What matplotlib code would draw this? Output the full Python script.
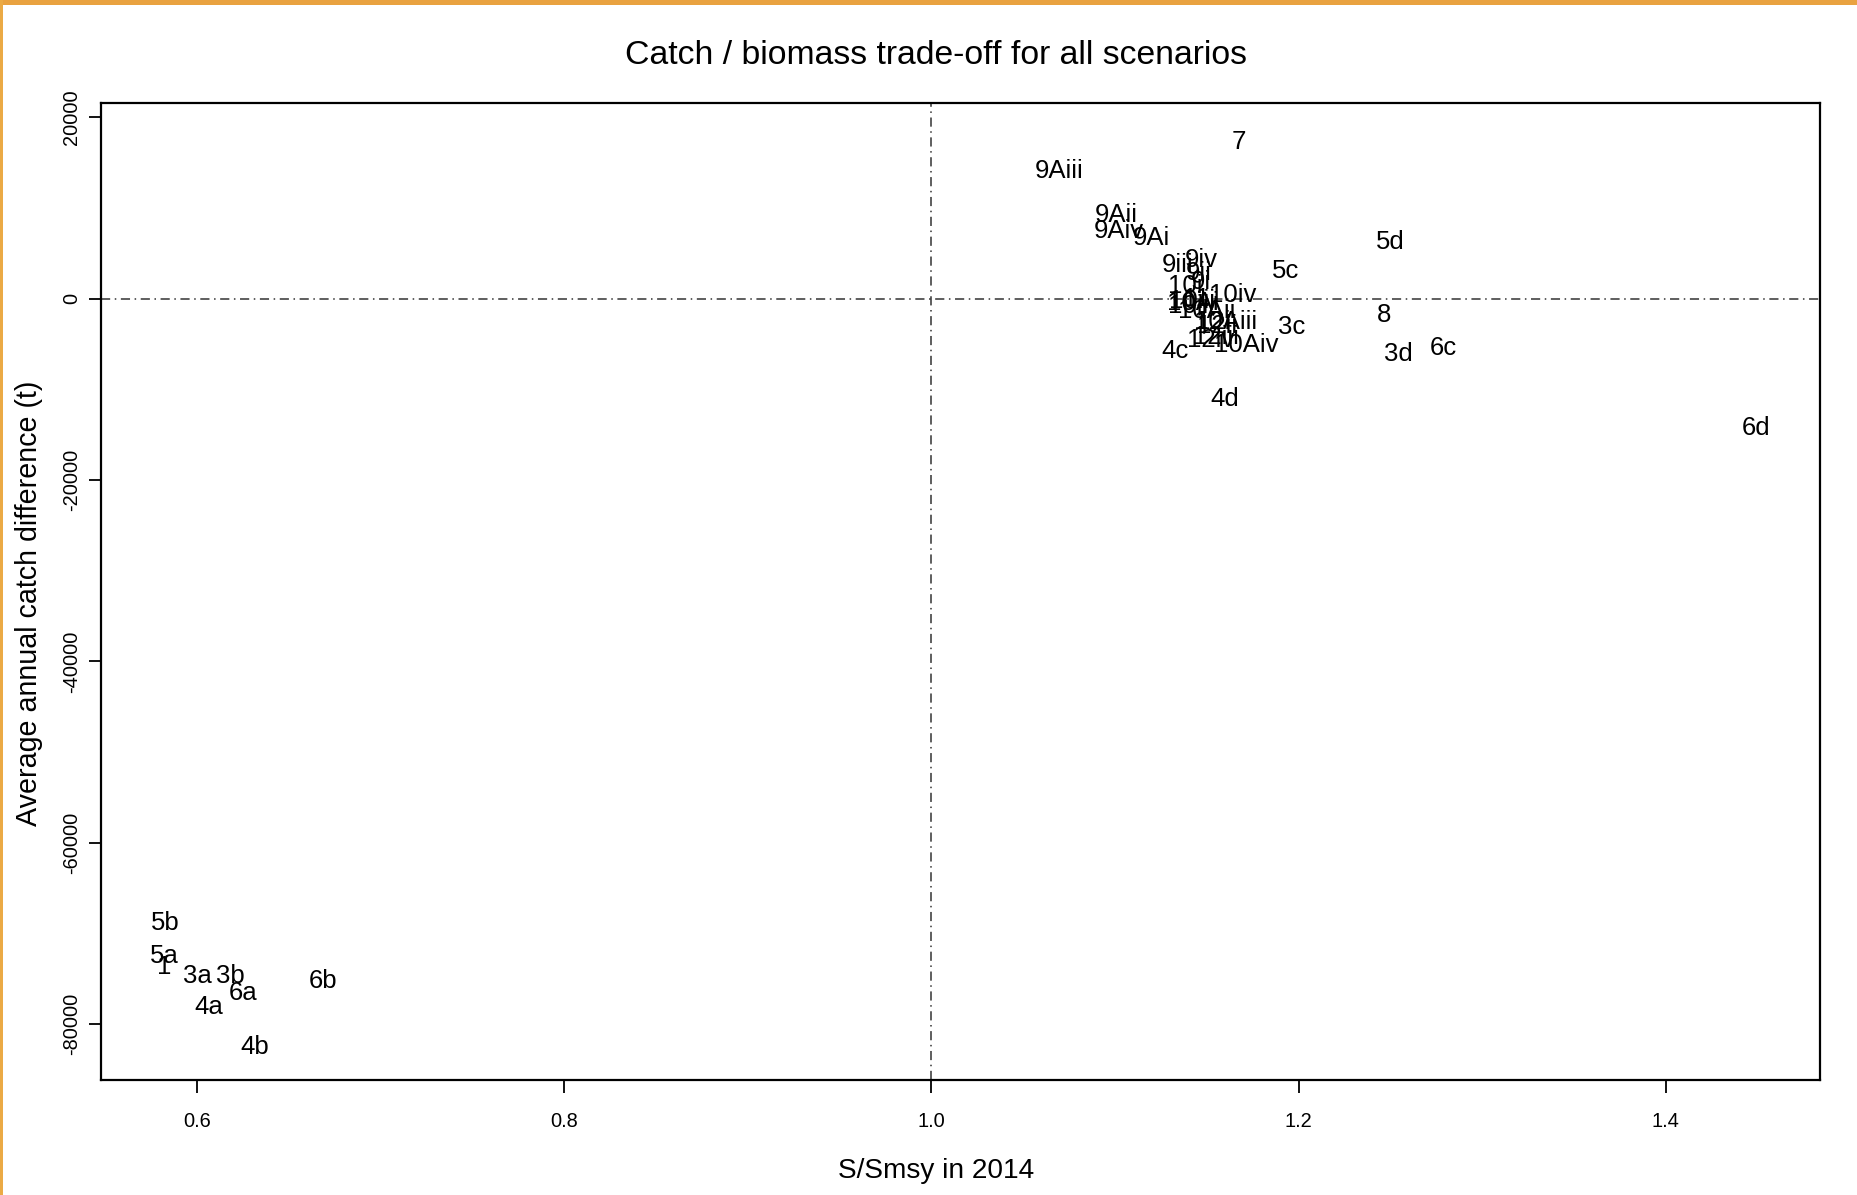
import numpy as np
import matplotlib
matplotlib.use("Agg")
import matplotlib.pyplot as plt
from matplotlib.patches import Rectangle

plt.rcParams['font.family'] = ['Liberation Sans', 'DejaVu Sans']

# scenario labels with S/Smsy in 2014 and average annual catch difference (t)
scenarios = ['1', '3a', '3b', '3c', '3d', '4a', '4b', '4c', '4d',
             '5a', '5b', '5c', '5d', '6a', '6b', '6c', '6d', '7', '8',
             '9i', '9ii', '9iii', '9iv', '9Ai', '9Aii', '9Aiii', '9Aiv',
             '10i', '10ii', '10iii', '10iv', '10Ai', '10Aii', '10Aiii', '10Aiv',
             '11', '12i', '12ii', '12iii', '12iv']
ssmsy = [0.5822, 0.6003, 0.6185, 1.1961, 1.2542, 0.6068, 0.6317, 1.1329, 1.1600,
         0.5822, 0.5827, 1.1929, 1.2497, 0.6254, 0.6689, 1.2787, 1.4490, 1.1677, 1.2465,
         1.1465, 1.1458, 1.1342, 1.1471, 1.1200, 1.1006, 1.0697, 1.1019,
         1.1381, 1.1400, 1.1419, 1.1639, 1.1426, 1.1497, 1.1600, 1.1716,
         1.1445, 1.1535, 1.1555, 1.1548, 1.1523]
catch_diff = [-73750, -74700, -74700, -3140, -6140, -78100, -82500, -5750, -11110,
              -72500, -68900, 3010, 6270, -76550, -75230, -5490, -14250, 17250, -1830,
              1830, 2880, 3660, 4310, 6670, 9280, 14120, 7450,
              1440, -780, -260, 390, -520, -1310, -2610, -5100,
              0, -2610, -3010, -4180, -4580]

xticks = [0.6, 0.8, 1.0, 1.2, 1.4]
yticks = [-80000, -60000, -40000, -20000, 0, 20000]

fig = plt.figure(figsize=(18.58, 11.95), dpi=100)
ax = fig.add_axes([0.0542, 0.0962, 0.9253, 0.8176])

for lab, xv, yv in zip(scenarios, ssmsy, catch_diff):
    ax.text(xv, yv, lab, ha='center', va='center', fontsize=18.5, color='black')

ax.axvline(1.0, color='#333333', lw=1.1, linestyle=(0, (6, 3, 1, 3)))
ax.axhline(0, color='#333333', lw=1.1, linestyle=(0, (6, 3, 1, 3)))

ax.set_xlim(0.5477, 1.4839)
ax.set_ylim(-86178, 21577)
ax.set_xticks(xticks)
ax.set_xticklabels(['0.6', '0.8', '1.0', '1.2', '1.4'])
ax.set_yticks(yticks)
ax.set_yticklabels([str(v) for v in yticks], rotation=90, va='center')
ax.tick_params(length=9, width=1.3, labelsize=14.4, direction='out')
ax.tick_params(axis='x', pad=14)
ax.tick_params(axis='y', pad=5)
for sp in ax.spines.values():
    sp.set_linewidth(1.6)

# title and x label sit a little left of the plot centre
fig.text(0.5039, 0.9535, 'Catch / biomass trade-off for all scenarios',
         fontsize=24.3, ha='center', va='center')
fig.text(0.5039, 0.0200, 'S/Smsy in 2014', fontsize=20.2, ha='center', va='center')
fig.text(0.0155, 0.4950, 'Average annual catch difference (t)', fontsize=20.6,
         rotation=90, ha='center', va='center')

# orange slide border along the top and left edges
fig.patches.append(Rectangle((0, 1 - 5 / 1195), 1, 5 / 1195, transform=fig.transFigure,
                             facecolor='#E9A240', edgecolor='none'))
fig.patches.append(Rectangle((0, 0), 3 / 1858, 1, transform=fig.transFigure,
                             facecolor='#EBAA45', edgecolor='none'))

plt.savefig("out.png", dpi=100)
